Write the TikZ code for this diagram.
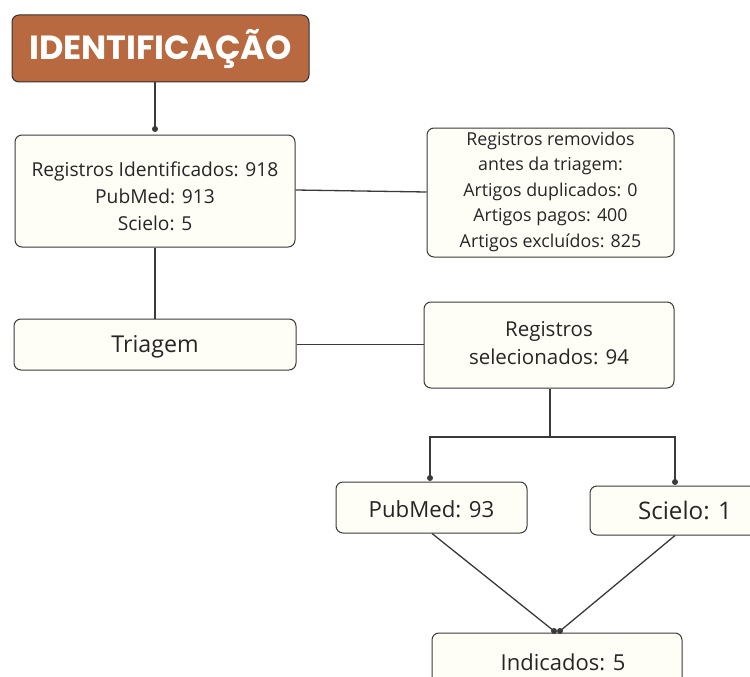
\documentclass[tikz,border=0pt]{standalone}
\usepackage{fontspec}
\setmainfont{Open Sans}
\newfontfamily\titlefont{Poppins}
\definecolor{boxfill}{HTML}{FEFDF6}
\definecolor{boxline}{HTML}{3A3A3A}
\definecolor{brown}{HTML}{B8693F}
\begin{document}
\begin{tikzpicture}[x=1pt,y=-1pt,
  box/.style={draw=boxline, line width=1pt, fill=boxfill, rounded corners=7pt, inner sep=0pt},
  txt/.style={align=center, inner sep=0pt, text=black!85},
  conn/.style={draw=boxline, line width=1.3pt},
  dot/.style={circle, fill=boxline, inner sep=0pt, minimum size=6pt}]
\useasboundingbox (0,0) rectangle (750,677);
\clip (0,0) rectangle (750,677);
\fill[white] (0,0) rectangle (750,677);
\coordinate (d1) at (155,129);
\coordinate (j0) at (550,437);
\coordinate (jl) at (430,437);
\coordinate (jr) at (675,437);
\coordinate (d2) at (430,478);
\coordinate (d3) at (675,482);
\coordinate (d4) at (554,631);
\coordinate (d5) at (560,631);
% boxes
\node[box, fill=brown, draw=black!80, minimum width=297pt, minimum height=67pt] (title) at (160.5,48.5) {};
\node[txt, text=white, font=\titlefont\bfseries\fontsize{33.5}{38}\selectfont] (titlet) at ([yshift=-0.5pt]title.center) {IDENTIFICAÇÃO};
\node[box, minimum width=280pt, minimum height=112pt] (reg) at (155,191) {};
\node[txt, font=\fontsize{19.2}{27}\selectfont] (regt) at ([yshift=-5.5pt]reg.center)
  {Registros Identificados: 918\\PubMed: 913\\Scielo: 5};
\node[box, minimum width=247pt, minimum height=129pt] (rem) at (550.5,192.5) {};
\node[txt, font=\fontsize{17.8}{25.5}\selectfont] (remt) at ([yshift=1pt]rem.center)
  {Registros removidos\\antes da triagem:\\Artigos duplicados: 0\\Artigos pagos: 400\\Artigos excluídos: 825};
\node[box, minimum width=282pt, minimum height=51pt] (tri) at (155,344.5) {};
\node[txt, font=\fontsize{23.2}{28}\selectfont] (trit) at ([yshift=-2pt]tri.center) {Triagem};
\node[box, minimum width=250pt, minimum height=86pt] (sel) at (549,345) {};
\node[txt, font=\fontsize{20.5}{28}\selectfont] (selt) at ([yshift=2pt]sel.center)
  {Registros\\selecionados: 94};
\node[box, minimum width=191pt, minimum height=51pt] (pub) at (431.5,507.5) {};
\node[txt, font=\fontsize{22.2}{28}\selectfont] (pubt) at ([yshift=-2pt]pub.center) {PubMed: 93};
\node[box, minimum width=190pt, minimum height=49pt] (sci) at (685,510.5) {};
\node[txt, font=\fontsize{24.2}{28}\selectfont] (scit) at (sci.center) {Scielo: 1};
\node[box, minimum width=250pt, minimum height=58pt] (ind) at (557,662) {};
\node[txt, font=\fontsize{22}{28}\selectfont] (indt) at ([xshift=6pt]ind.center) {Indicados: 5};
% connectors
\draw[conn] (title.south -| d1) -- (d1);
\node[dot] at (d1) {};
\draw[conn] (reg.east |- 0,190) -- (rem.west |- 0,192);
\draw[conn] (reg.south) -- (tri.north);
\draw[conn, line width=1.8pt] (tri.east) -- (sel.west |- tri.east);
\draw[conn] (sel.south -| j0) -- (j0);
\draw[conn] (d2) -- (jl) -- (jr) -- (d3);
\node[dot] at (d2) {};
\node[dot] at (d3) {};
\draw[conn] (pub.south -| 432,0) -- (d4);
\draw[conn] (sci.south -| 675,0) -- (d5);
\node[dot] at (d4) {};
\node[dot] at (d5) {};
\end{tikzpicture}
\end{document}
